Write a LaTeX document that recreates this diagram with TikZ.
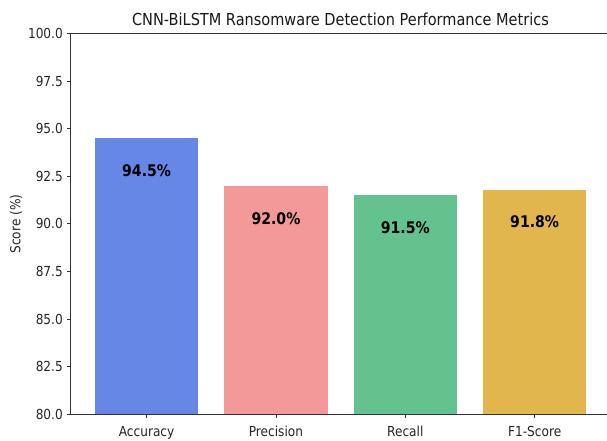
\documentclass[tikz,border=0pt]{standalone}
\usepackage{fontspec}
\setmainfont[FakeStretch=0.88]{DejaVu Sans}
\begin{document}
\begin{tikzpicture}[x=1pt,y=-1pt,
  spine/.style={line width=0.9pt, draw=black!80},
  tick/.style={line width=0.9pt, draw=black!80},
  ticklbl/.style={font=\fontsize{13.8}{13.8}\selectfont, text=black!85, inner sep=0pt},
  barlbl/.style={font=\fontsize{16}{16}\selectfont\bfseries, inner sep=0pt},
  bar/.style={draw=none}]
\definecolor{cacc}{RGB}{103,135,231}
\definecolor{cpre}{RGB}{243,153,153}
\definecolor{crec}{RGB}{99,194,141}
\definecolor{cf1}{RGB}{225,183,77}
\useasboundingbox (0,0) rectangle (607,441);
\fill[white] (0,0) rectangle (607,441);
\pgfmathsetmacro{\yb}{414.3}
\pgfmathsetmacro{\sc}{19.04}
% bars
\foreach \i/\v/\c/\nm in {0/94.5/cacc/acc,1/92.0/cpre/pre,2/91.5/crec/rec,3/91.8/cf1/fone}{
  \pgfmathsetmacro{\cx}{146.6+\i*129.35}
  \pgfmathsetmacro{\yt}{\yb-(\v-80)*\sc}
  \pgfmathsetmacro{\yl}{\yb-(\v-1.7-80)*\sc}
  \fill[\c] (\cx-51.7,\yb) rectangle (\cx+51.7,\yt);
  \node[barlbl] (lbl\nm) at (\cx,\yl) {\v\%};
}
% spines
\coordinate (o) at (70.3,414.3);
\coordinate (tl) at (70.3,33.5);
\coordinate (tr) at (607,33.5);
\coordinate (br) at (607,414.3);
\draw[spine] (tr) -- (tl) -- (o) -- (br);
% y ticks
\foreach \v in {80.0,82.5,85.0,87.5,90.0,92.5,95.0,97.5,100.0}{
  \pgfmathsetmacro{\yy}{\yb-(\v-80)*\sc}
  \draw[tick] (70.3,\yy) -- (66.8,\yy);
  \node[ticklbl, anchor=east] at (63,\yy) {\v};
}
% x ticks
\foreach \i/\t in {0/Accuracy,1/Precision,2/Recall,3/F1-Score}{
  \pgfmathsetmacro{\cx}{146.6+\i*129.35}
  \draw[tick] (\cx,414.3) -- (\cx,417.8);
  \node[ticklbl, anchor=base] at (\cx,436) {\t};
}
\node[font=\fontsize{13.8}{13.8}\selectfont, text=black!85, rotate=90] (ylab) at (16,224) {Score (\%)};
\node[font=\fontsize{16.5}{16.5}\selectfont, text=black!90, anchor=base] (title) at (340.5,25.5) {CNN-BiLSTM Ransomware Detection Performance Metrics};
\end{tikzpicture}
\end{document}
